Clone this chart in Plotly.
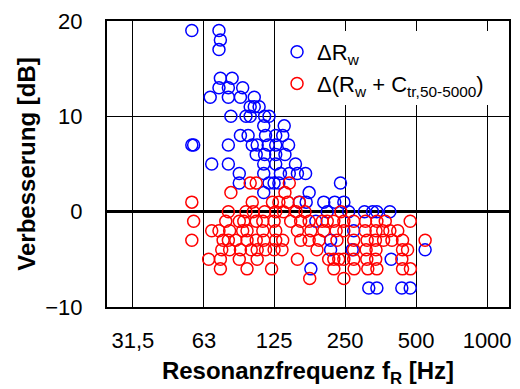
import plotly.graph_objects as go

# Blue: Delta R_w  (frequency Hz, improvement dB)
blue_f = [56, 73, 74, 73, 74, 83, 73, 80, 92, 67, 80, 90, 103, 99, 103, 108,
          82, 95, 99, 114, 119, 113, 138, 145, 90, 97, 115, 127, 136,
          56, 57, 80, 101, 106, 118, 127, 144, 105, 114, 127, 139,
          68, 80, 113, 127, 154, 89, 113, 133, 145, 157, 170,
          89, 119, 125, 131, 239, 113, 176, 160, 171, 203, 226, 247,
          210, 259, 302, 327, 341, 387, 188, 272, 217, 217, 268, 546,
          392, 179, 315, 341, 435, 472]
blue_db = [19, 19, 18, 17, 14, 14, 13, 13, 13, 12, 12, 12, 12, 11, 11, 11,
           10, 10, 10, 10, 10, 9, 9, 12, 8, 8, 8, 8, 8,
           7, 7, 7, 7, 7, 7, 7, 7, 6, 6, 6, 6,
           5, 5, 5, 5, 5, 4, 4, 4, 4, 4, 4,
           3, 3, 3, 3, 3, 2, 2, 1, 1, 1, 1, 1,
           0, 0, 0, 0, 0, 0, -1, -2, -3, -4, -4, -4,
           -5, -6, -8, -8, -8, -8]

# Red: Delta(R_w + C_tr,50-5000)
red_f = [99, 105, 145,
         82, 139,
         56, 101, 123, 131, 143, 160,
         80, 95, 102, 114, 127, 137, 155, 169, 240,
         57, 78, 89, 93, 105, 112, 125, 147, 162, 176, 200, 210, 224, 247, 272, 305, 341, 370, 472,
         68, 73, 81, 92, 96, 112, 127, 157, 179, 203, 229, 247, 304, 338, 361, 387, 418,
         56, 76, 80, 86, 96, 105, 113, 127, 136, 162, 176, 194, 231, 272, 310, 336, 364, 395, 438, 546,
         75, 81, 90, 100, 106, 115, 125, 135, 190, 272, 307, 338, 438, 460,
         66, 74, 89, 106, 157, 213, 224, 235, 247, 272, 309, 337, 435,
         74, 96, 122, 224, 273, 312, 341, 438, 473,
         177, 247]
red_db = [3, 3, 3,
          2, 2,
          1, 1, 1, 1, 1, 1,
          0, 0, 0, 0, 0, 0, 0, 0, 0,
          -1, -1, -1, -1, -1, -1, -1, -1, -1, -1, -1, -1, -1, -1, -1, -1, -1, -1, -1,
          -2, -2, -2, -2, -2, -2, -2, -2, -2, -2, -2, -2, -2, -2, -2, -2, -2,
          -3, -3, -3, -3, -3, -3, -3, -3, -3, -3, -3, -3, -3, -3, -3, -3, -3, -3, -3, -3,
          -4, -4, -4, -4, -4, -4, -4, -4, -4, -4, -4, -4, -4, -4,
          -5, -5, -5, -5, -5, -5, -5, -5, -5, -5, -5, -5, -5,
          -6, -6, -6, -6, -6, -6, -6, -6, -6,
          -7, -7]

x_tickvals = [31.5, 63, 125, 250, 500, 1000]
x_ticktext = ["31,5", "63", "125", "250", "500", "1000"]
y_tickvals = [-10, 0, 10, 20]

FONT = "Liberation Sans, Arial, sans-serif"

fig = go.Figure()
fig.add_trace(go.Scatter(
    x=blue_f, y=blue_db, mode="markers", name="ΔR<sub>w</sub>",
    marker=dict(symbol="circle-open", size=12, color="#0000FF",
                line=dict(width=1.5, color="#0000FF")),
))
fig.add_trace(go.Scatter(
    x=red_f, y=red_db, mode="markers", name="Δ(R<sub>w</sub> + C<sub>tr,50-5000</sub>)",
    marker=dict(symbol="circle-open", size=12, color="#FF0000",
                line=dict(width=1.5, color="#FF0000")),
))

fig.update_layout(
    width=520, height=389,
    margin=dict(l=107, r=9, t=21, b=82),
    paper_bgcolor="white", plot_bgcolor="white",
    font=dict(family=FONT, size=21, color="black"),
    showlegend=True,
    legend=dict(x=0.423, y=0.965, xanchor="left", yanchor="top",
                bgcolor="white", borderwidth=0,
                font=dict(size=22, family=FONT, color="black")),
    xaxis=dict(
        type="log", range=[1.3886, 3.0928],
        tickvals=x_tickvals, ticktext=x_ticktext,
        showgrid=True, gridcolor="black", gridwidth=1,
        showline=True, linecolor="black", linewidth=2, mirror=True,
        ticks="", ticklabelstandoff=13,
        tickfont=dict(size=22),
        title=dict(text="<b>Resonanzfrequenz f<sub>R</sub> [Hz]</b>",
                   font=dict(size=24), standoff=10),
    ),
    yaxis=dict(
        range=[-10, 20], tickvals=y_tickvals,
        showgrid=True, gridcolor="black", gridwidth=1,
        zeroline=True, zerolinecolor="black", zerolinewidth=3,
        showline=True, linecolor="black", linewidth=2, mirror=True,
        ticks="", ticklabelstandoff=18,
        tickfont=dict(size=22),
        title=dict(text="<b>Verbesserung [dB]</b>", font=dict(size=24), standoff=3),
    ),
)

fig.write_html("out.html")
